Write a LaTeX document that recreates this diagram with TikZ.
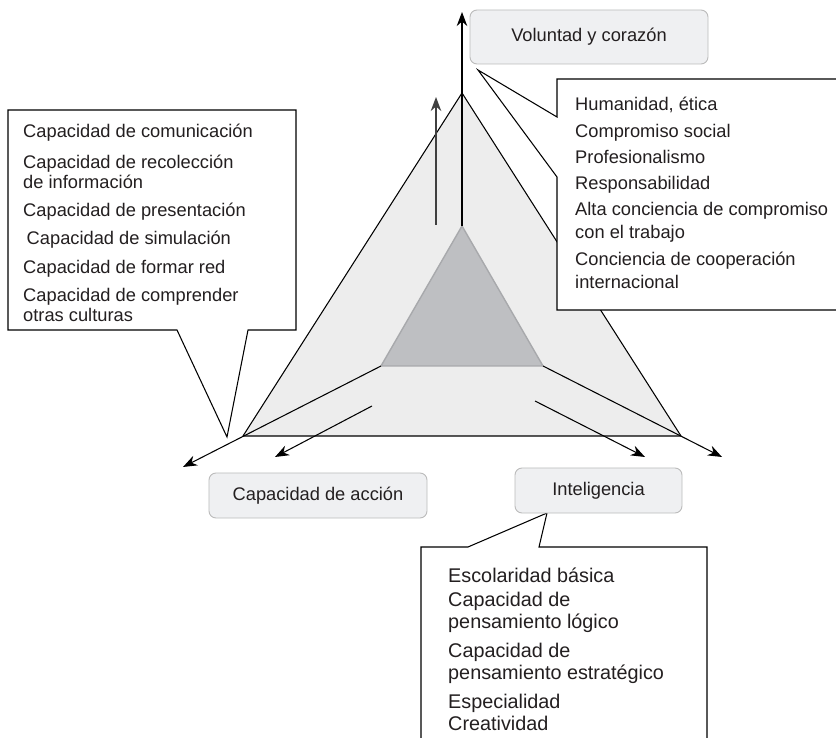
\documentclass[tikz,border=0pt]{standalone}
\usepackage{fontspec}
\setmainfont{Liberation Sans}
\usetikzlibrary{arrows.meta,positioning}

\definecolor{outerfill}{HTML}{EDEDED}
\definecolor{innerfill}{HTML}{BEBFC2}
\definecolor{innerline}{HTML}{A8A9AC}
\definecolor{boxfill}{HTML}{EFF0F2}
\definecolor{boxline}{HTML}{BBBBBB}
\definecolor{txt}{HTML}{231F20}

\tikzset{
  label box/.style={draw=boxline, fill=boxfill, rounded corners=6pt, line width=0.8pt, inner sep=0pt, text=txt, font=\fontsize{15.6}{18}\selectfont},
  axis arrow/.style={-{Stealth[length=12pt,width=9pt]}, line width=0.9pt},
  callout/.style={draw, fill=white, line width=0.9pt},
  list text/.style={anchor=north west, inner sep=0pt, align=left, text=txt},
}

\begin{document}
\begin{tikzpicture}[x=0.03cm,y=-0.03cm]
		\useasboundingbox (0,0) rectangle (836,738);
		\clip (0,0) rectangle (836,738);
		% corners of the two triangles
		\node[coordinate] (top) at (462,93) {};
		\node[coordinate] (left) at (243,436) {};
		\node[coordinate] (right) at (681,436) {};
		\node[coordinate] (in_top) at (462,226) {};
		\node[coordinate] (in_left) at (381,366) {};
		\node[coordinate] (in_right) at (543,366) {};
		\draw[fill=outerfill, line width=0.9pt] (top) -- (left) -- (right) -- cycle;
		\draw[fill=innerfill, draw=innerline, line width=1.2pt] (in_top) -- (in_left) -- (in_right) -- cycle;
		% the three axes
		\node[coordinate] (end_v) at (462,12) {};
		\node[coordinate] (end_a) at (183,467) {};
		\node[coordinate] (end_i) at (722,457) {};
		\draw[axis arrow] (in_top) -- (end_v);
		\draw[axis arrow] (in_left) -- (end_a);
		\draw[axis arrow] (in_right) -- (end_i);
		% short arrows
		\node[coordinate] (up_s) at (436,225) {};
		\node[coordinate] (up_e) at (436,97) {};
		\node[coordinate] (la_s) at (372,406) {};
		\node[coordinate] (la_e) at (275,457) {};
		\node[coordinate] (ra_s) at (535,401) {};
		\node[coordinate] (ra_e) at (645,457) {};
		\draw[axis arrow, line width=1.3pt, draw=black!75, fill=black!75] (up_s) -- (up_e);
		\draw[axis arrow] (la_s) -- (la_e);
		\draw[axis arrow] (ra_s) -- (ra_e);
		% callouts
		\draw[callout] (8,110) -- (296,110) -- (296,330) -- (248,330) -- (227,437)
		-- (177,330) -- (8,330) -- cycle;
		\draw[callout] (557,79) -- (850,79) -- (850,310) -- (557,310) -- (557,177)
		-- (478,70) -- (557,117) -- cycle;
		\draw[callout] (421,760) -- (421,547) -- (468,547) -- (547,513) -- (539,547)
		-- (707,547) -- (707,760);
		% labels
		\node[label box, minimum width=7.14cm, minimum height=1.62cm] (voluntad) at (589,37) {Voluntad y corazón};
		\node[label box, minimum width=6.54cm, minimum height=1.35cm] (accion) at (318,495.5) {Capacidad de acción};
		\node[label box, minimum width=5.01cm, minimum height=1.35cm] (inteligencia) at (598.5,490.5) {Inteligencia};
		\node[list text, font=\fontsize{15.6}{17}\selectfont] (habilidades) at (23,124)
		{Capacidad de comunicación\\[9pt]
		Capacidad de recolección\\ de información\\[7.5pt]
		Capacidad de presentación\\[7pt]
		\hspace*{3pt}Capacidad de simulación\\[7pt]
		Capacidad de formar red\\[7pt]
		Capacidad de comprender\\ otras culturas};
		\node[list text, font=\fontsize{15.6}{19.5}\selectfont] (cualidades) at (575,97)
		{Humanidad, ética\\[3.5pt]
		Compromiso social\\[3pt]
		Profesionalismo\\[2.5pt]
		Responsabilidad\\[2.5pt]
		Alta conciencia de compromiso\\ con el trabajo\\[4pt]
		Conciencia de cooperación\\ internacional};
		\node[list text, font=\fontsize{16.9}{19}\selectfont] (saberes) at (448,568)
		{Escolaridad básica\\[1pt]
		Capacidad de\\ pensamiento lógico\\[5.5pt]
		Capacidad de\\ pensamiento estratégico\\[5.5pt]
		Especialidad\\
		Creatividad};
	\end{tikzpicture}
\end{document}
